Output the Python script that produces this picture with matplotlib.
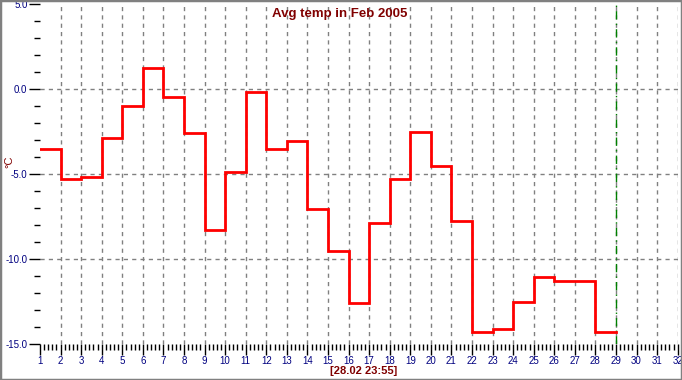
import matplotlib
matplotlib.use("Agg")
import matplotlib.pyplot as plt
from matplotlib.ticker import MultipleLocator, FixedLocator
from matplotlib.patches import Rectangle
import numpy as np

plt.rcParams['font.family'] = ['Liberation Sans', 'DejaVu Sans']
plt.rcParams['axes.unicode_minus'] = False

days = list(range(1, 29))
temps = [-3.5, -5.3, -5.2, -2.9, -1.0, 1.25, -0.45, -2.6, -8.3, -4.9,
         -0.2, -3.5, -3.05, -7.05, -9.5, -12.6, -7.9, -5.3, -2.5, -4.5,
         -7.75, -14.3, -14.1, -12.5, -11.05, -11.3, -11.3, -14.3]
x_ticks = list(range(1, 33))
y_ticks = [5.0, 0.0, -5.0, -10.0, -15.0]
title = "Avg temp in Feb 2005"
stamp = "[28.02 23:55]"
unit = "°C"
now_day = 29

W, H = 682, 380
fig = plt.figure(figsize=(W / 100, H / 100), dpi=100)
ax = fig.add_axes([40 / W, 1 - 344 / H, 637.7 / W, 340 / H])

for s in ax.spines.values():
    s.set_visible(False)

# grid
for d in x_ticks[1:]:
    ax.axvline(d, color='#808080', lw=1, ls=(0, (3, 3)), zorder=1)
for v in [0.0, -5.0, -10.0]:
    ax.axhline(v, color='#808080', lw=1, ls=(0, (3, 3)), zorder=1)

ax.axvline(now_day, color='#008000', lw=1, ls=(0, (6, 3, 1, 3)), zorder=2)

xs = days + [days[-1] + 1]
ys = temps + [temps[-1]]
ax.step(xs, ys, where='post', color='#ff0000', lw=2, zorder=3, solid_joinstyle='miter')

ax.set_xlim(1, 32)
ax.set_ylim(-15, 5)
ax.xaxis.set_major_locator(FixedLocator(x_ticks))
ax.xaxis.set_minor_locator(MultipleLocator(0.2))
ax.yaxis.set_major_locator(FixedLocator(y_ticks))
ax.yaxis.set_minor_locator(MultipleLocator(1))
ax.set_xticklabels([str(d) for d in x_ticks])
ax.set_yticklabels([f"{v:.1f}" for v in y_ticks])
ax.tick_params(axis='both', which='major', length=8, width=1, color='black',
               labelsize=7, labelcolor='#000080', pad=1)
ax.tick_params(axis='both', which='minor', length=4, width=1, color='black')

fig.text(340 / W, 1 - 13.5 / H, title, ha='center', va='center', color='#800000',
         fontsize=9.5, fontweight='bold')
fig.text(364 / W, 1 - 371 / H, stamp, ha='center', va='center', color='#800000',
         fontsize=8, fontweight='bold')
fig.text(9 / W, 1 - 162 / H, unit, ha='center', va='center', color='#800000',
         fontsize=8, rotation=90)

fig.patches.append(Rectangle((0, 0), 1, 1, transform=fig.transFigure, fill=False,
                             edgecolor='#808080', lw=2.5))

fig.savefig("out.png", dpi=100)
